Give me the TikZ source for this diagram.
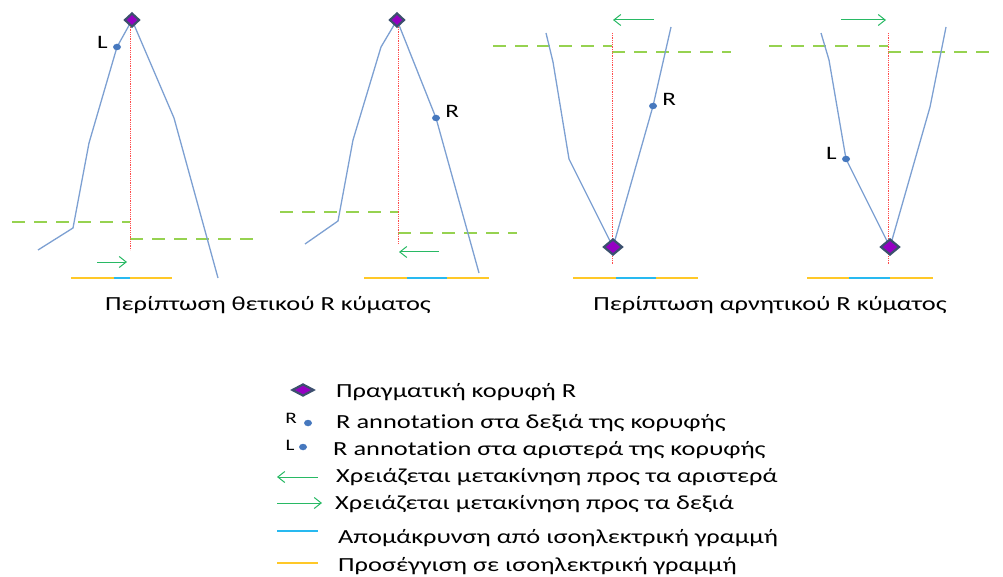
\documentclass[tikz,border=0pt]{standalone}
\usepackage{fontspec}
\setmainfont[FakeStretch=1.32, Ligatures={NoCommon}]{Carlito}
\usetikzlibrary{arrows.meta, shapes.geometric, positioning}
\definecolor{colWave}{RGB}{125,160,210}
\definecolor{colPeak}{RGB}{150,0,195}
\definecolor{colPeakBorder}{RGB}{60,80,110}
\definecolor{colDot}{RGB}{70,120,190}
\definecolor{colIso}{RGB}{150,210,80}
\definecolor{colRef}{RGB}{255,75,75}
\definecolor{colMove}{RGB}{40,185,100}
\definecolor{colAway}{RGB}{40,185,240}
\definecolor{colNear}{RGB}{255,200,40}
\tikzset{
  wave/.style={draw=colWave, line width=1.3pt, line join=round},
  peak/.style={
    diamond, draw=colPeakBorder, fill=colPeak,
    line width=2.2pt, inner sep=0pt,
    minimum width=15pt, minimum height=14pt
  },
  annot/.style={ellipse, fill=colDot, inner sep=0pt, minimum width=8pt, minimum height=6.5pt},
  iso/.style={draw=colIso, line width=2.6pt, dash pattern=on 13pt off 9pt},
  refline/.style={draw=colRef, line width=1pt, dash pattern=on 1pt off 0.8pt},
  moveArr/.style={-{Straight Barb[length=7pt, width=11pt]}, line width=1pt, color=colMove},
  awayLine/.style={draw=colAway, line width=1.5pt},
  nearLine/.style={draw=colNear, line width=1.5pt},
  letter/.style={font=\fontsize{19}{19}\selectfont, inner sep=0pt},
  caption/.style={font=\fontsize{20}{22}\selectfont, inner sep=0pt},
  legendText/.style={font=\fontsize{20}{22}\selectfont, inner sep=0pt, anchor=base west}
}
\begin{document}
\begin{tikzpicture}[x=1pt, y=-1pt]
  \useasboundingbox (0,0) rectangle (1003,577);

  % ---- positive R wave, L annotation ----
  \coordinate (a1) at (38,250);
  \coordinate (a2) at (73,228);
  \coordinate (a3) at (89,143);
  \coordinate (aL) at (117,47);
  \coordinate (aP) at (132,20);
  \coordinate (a4) at (174,118);
  \coordinate (a5) at (218,278);
  \draw[iso] (12,222) -- (130,222);
  \draw[iso] (130,239) -- (255,239);
  \draw[wave] (a1) -- (a2) -- (a3) -- (aL) -- (aP) -- (a4) -- (a5);
  \coordinate (aTop) at (130,25);
  \coordinate (aBot) at (130,250);
  \draw[refline] (aTop) -- (aBot);
  \node[peak] (peakA) at (aP) {};
  \node[annot] (dotA) at (aL) {};
  \node[letter, left=5pt of dotA, yshift=5pt] (labA) {L};
  \coordinate (arrA1) at (97,262);
  \coordinate (arrA2) at (127,262);
  \draw[moveArr] (arrA1) -- (arrA2);
  \draw[nearLine] (71,278) -- (114,278);
  \draw[awayLine] (114,278) -- (130,278);
  \draw[nearLine] (130,278) -- (172,278);

  % ---- positive R wave, R annotation ----
  \coordinate (b1) at (305,244);
  \coordinate (b2) at (338,221);
  \coordinate (b3) at (353,140);
  \coordinate (b4) at (381,47);
  \coordinate (bP) at (397,20);
  \coordinate (bR) at (436,118);
  \coordinate (b5) at (479,273);
  \draw[iso] (280,212) -- (398,212);
  \draw[iso] (398,233) -- (517,233);
  \draw[wave] (b1) -- (b2) -- (b3) -- (b4) -- (bP) -- (bR) -- (b5);
  \coordinate (bTop) at (398,27);
  \coordinate (bBot) at (398,244);
  \draw[refline] (bTop) -- (bBot);
  \node[peak] (peakB) at (bP) {};
  \node[annot] (dotB) at (bR) {};
  \node[letter, right=5pt of dotB, yshift=7pt] (labB) {R};
  \coordinate (arrB1) at (439,252);
  \coordinate (arrB2) at (399,252);
  \draw[moveArr] (arrB1) -- (arrB2);
  \draw[nearLine] (364,278) -- (407,278);
  \draw[awayLine] (407,278) -- (447,278);
  \draw[nearLine] (447,278) -- (489,278);

  \node[caption] (capPos) at (268,305) {Περίπτωση θετικού R κύματος};

  % ---- negative R wave, R annotation ----
  \coordinate (c1) at (546,33);
  \coordinate (c2) at (553,62);
  \coordinate (c3) at (569,159);
  \coordinate (cP) at (613,247);
  \coordinate (cR) at (653,106);
  \coordinate (c4) at (671,27);
  \draw[iso] (493,46) -- (612,46);
  \draw[iso] (612,52) -- (731,52);
  \draw[wave] (c1) -- (c2) -- (c3) -- (cP) -- (cR) -- (c4);
  \coordinate (cTop) at (612,33);
  \coordinate (cBot) at (612,265);
  \draw[refline] (cTop) -- (cBot);
  \node[peak, minimum width=19pt, minimum height=16pt] (peakC) at (cP) {};
  \node[annot] (dotC) at (cR) {};
  \node[letter, right=5pt of dotC, yshift=7pt] (labC) {R};
  \coordinate (arrC1) at (654,20);
  \coordinate (arrC2) at (613,20);
  \draw[moveArr] (arrC1) -- (arrC2);
  \draw[nearLine] (573,278) -- (616,278);
  \draw[awayLine] (616,278) -- (656,278);
  \draw[nearLine] (656,278) -- (698,278);

  % ---- negative R wave, L annotation ----
  \coordinate (d1) at (821,33);
  \coordinate (d2) at (829,60);
  \coordinate (dL) at (846,159);
  \coordinate (dP) at (890,247);
  \coordinate (d3) at (930,107);
  \coordinate (d4) at (946,27);
  \draw[iso] (769,46) -- (888,46);
  \draw[iso] (888,52) -- (994,52);
  \draw[wave] (d1) -- (d2) -- (dL) -- (dP) -- (d3) -- (d4);
  \coordinate (dTop) at (888,33);
  \coordinate (dBot) at (888,265);
  \draw[refline] (dTop) -- (dBot);
  \node[peak, minimum width=19pt, minimum height=16pt] (peakD) at (dP) {};
  \node[annot] (dotD) at (dL) {};
  \node[letter, left=5pt of dotD, yshift=6pt] (labD) {L};
  \coordinate (arrD1) at (841,20);
  \coordinate (arrD2) at (886,20);
  \draw[moveArr] (arrD1) -- (arrD2);
  \draw[nearLine] (807,278) -- (849,278);
  \draw[awayLine] (849,278) -- (890,278);
  \draw[nearLine] (890,278) -- (933,278);

  \node[caption] (capNeg) at (770,305) {Περίπτωση αρνητικού R κύματος};

  % ---- legend ----
  \node[peak, minimum width=22pt, minimum height=12pt] (legPeak) at (303,390) {};
  \node[legendText] (txtPeak) at (336,397) {Πραγματική κορυφή R};

  \node[annot] (legDotR) at (308,423) {};
  \node[letter, font=\fontsize{16}{16}\selectfont] (legR) at (291,418) {R};
  \node[legendText] (txtR) at (336,428) {R annotation στα δεξιά της κορυφής};

  \node[annot] (legDotL) at (303,447) {};
  \node[letter, font=\fontsize{16}{16}\selectfont] (legL) at (290,445) {L};
  \node[legendText] (txtL) at (333,455) {R annotation στα αριστερά της κορυφής};

  \coordinate (legLeft1) at (318,477);
  \coordinate (legLeft2) at (277,477);
  \draw[moveArr] (legLeft1) -- (legLeft2);
  \node[legendText] (txtLeft) at (336,482) {Χρειάζεται μετακίνηση προς τα αριστερά};

  \coordinate (legRight1) at (277,503);
  \coordinate (legRight2) at (322,503);
  \draw[moveArr] (legRight1) -- (legRight2);
  \node[legendText] (txtRight) at (335,509) {Χρειάζεται μετακίνηση προς τα δεξιά};

  \coordinate (legAway1) at (277,531);
  \coordinate (legAway2) at (318,531);
  \draw[awayLine] (legAway1) -- (legAway2);
  \node[legendText] (txtAway) at (338,543) {Απομάκρυνση από ισοηλεκτρική γραμμή};

  \coordinate (legNear1) at (277,563);
  \coordinate (legNear2) at (318,563);
  \draw[nearLine] (legNear1) -- (legNear2);
  \node[legendText] (txtNear) at (338,571) {Προσέγγιση σε ισοηλεκτρική γραμμή};
\end{tikzpicture}
\end{document}
